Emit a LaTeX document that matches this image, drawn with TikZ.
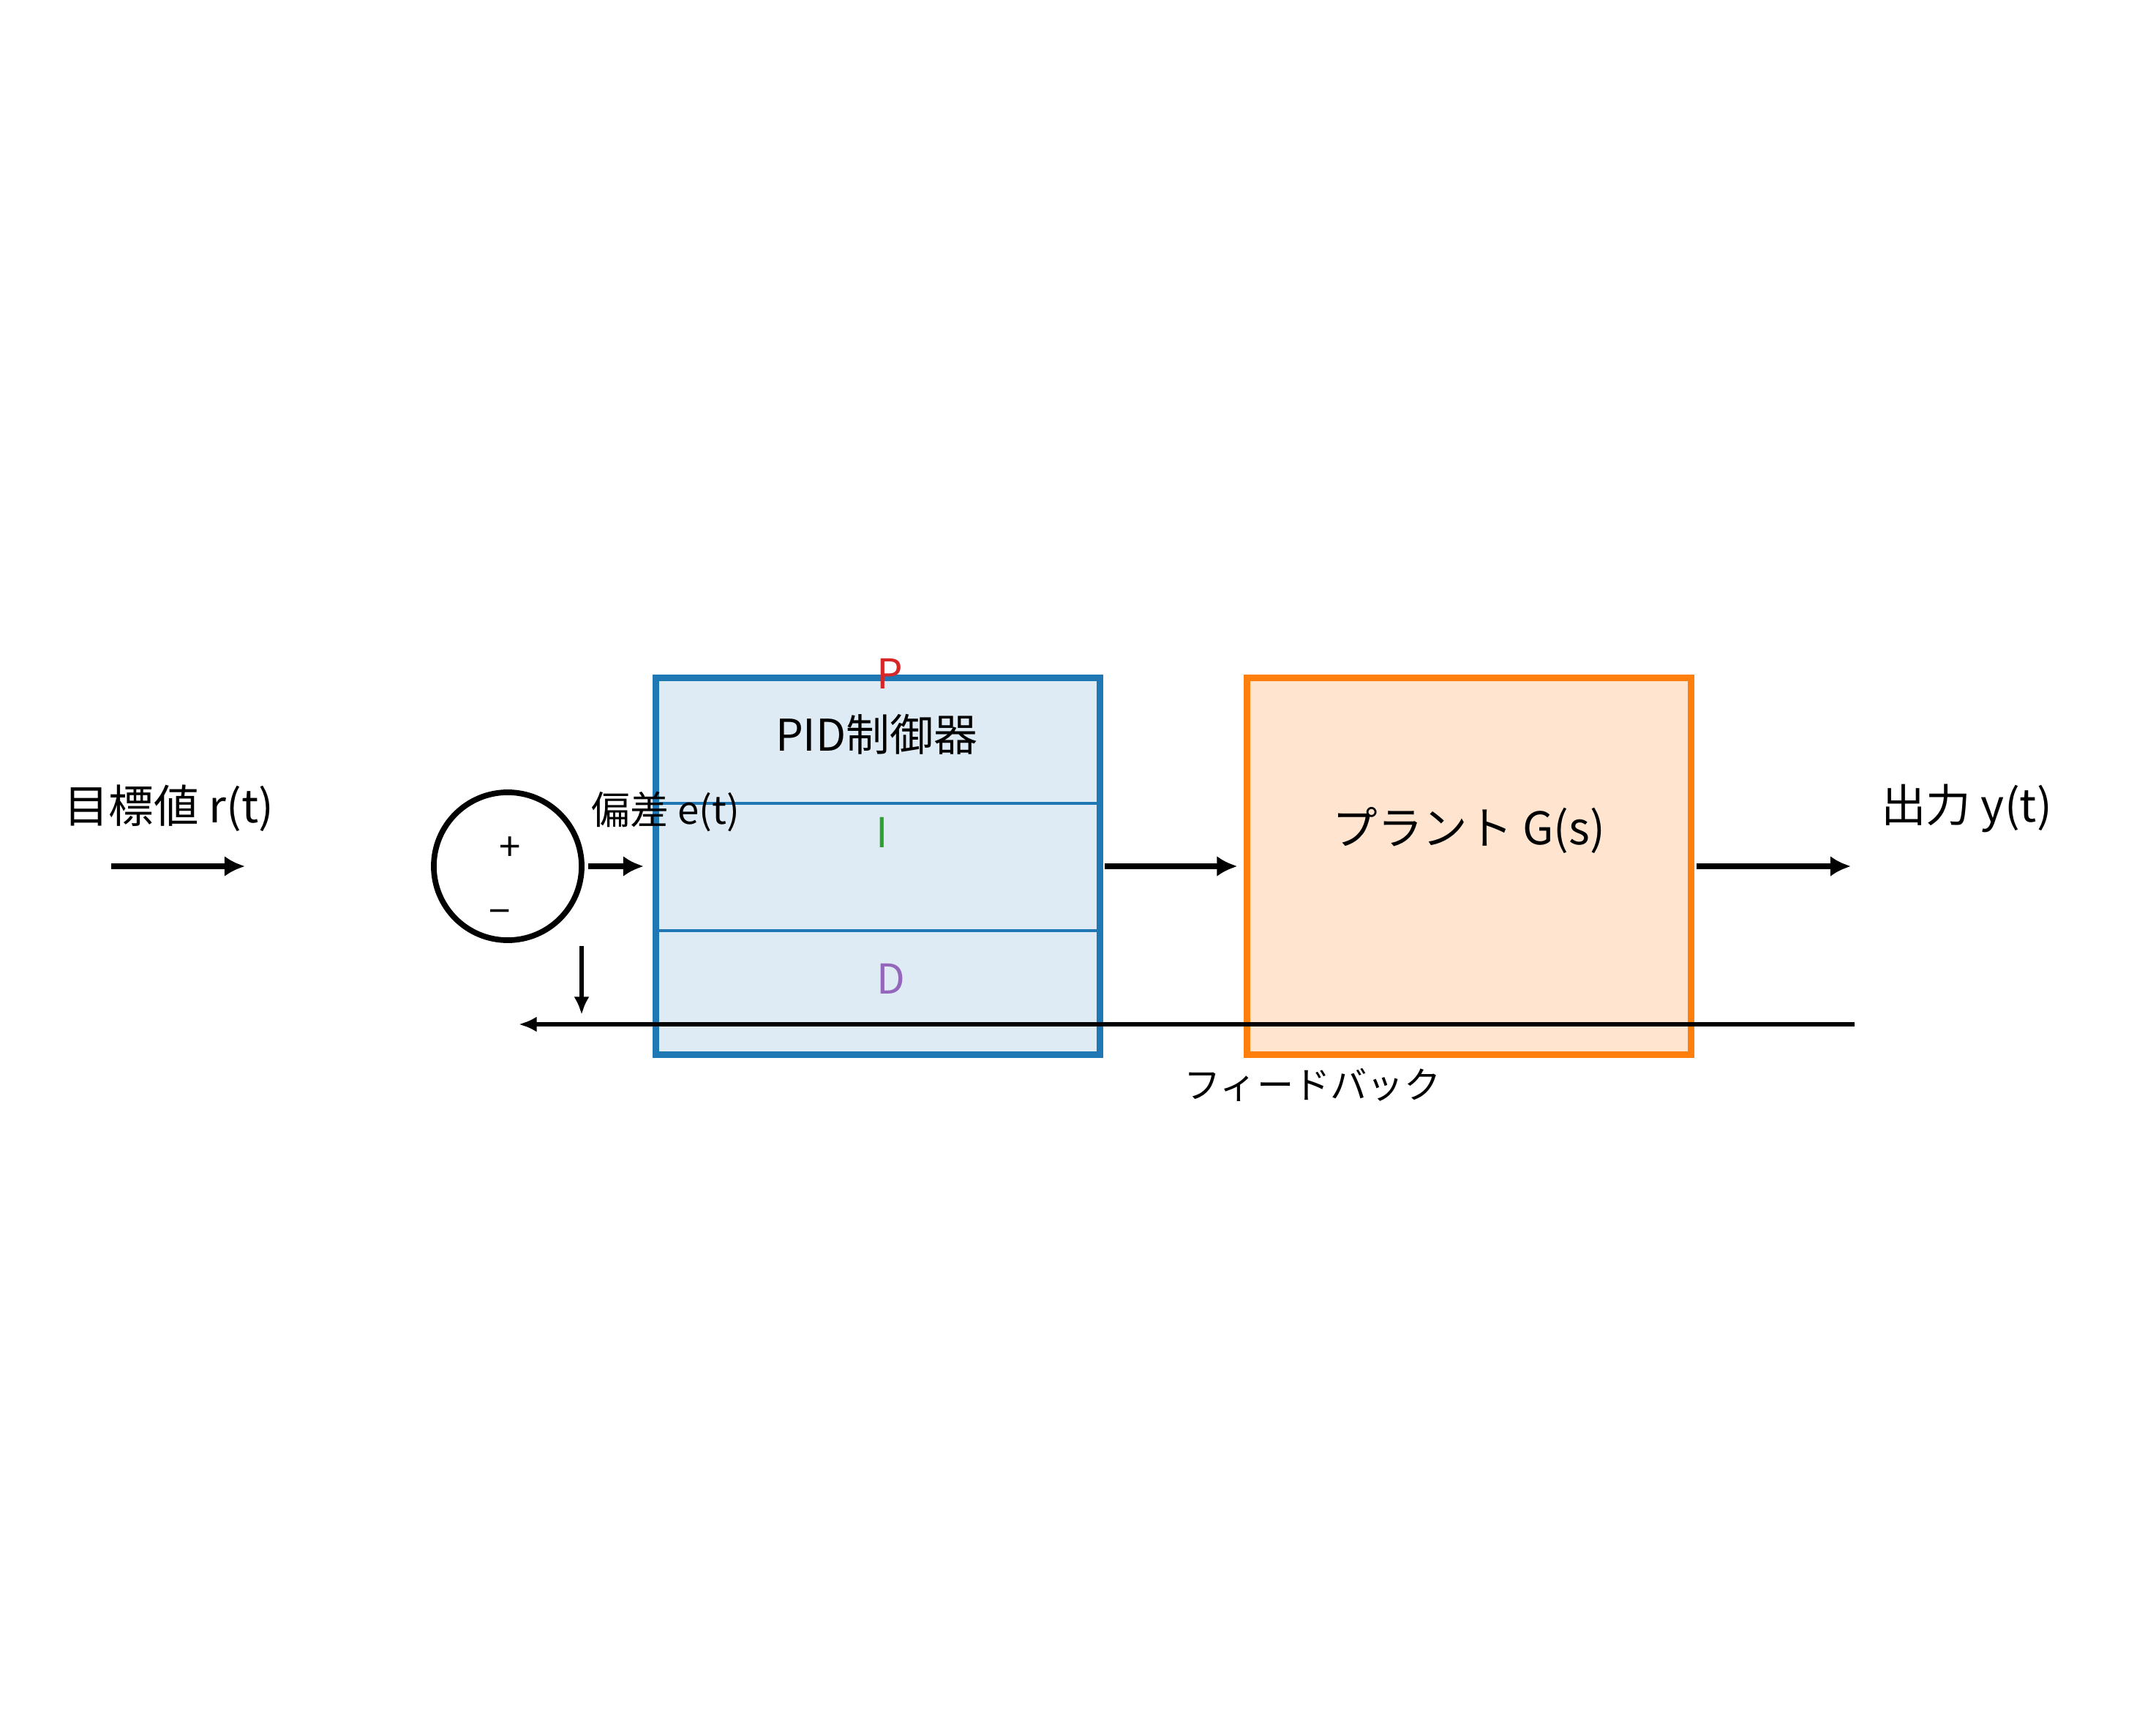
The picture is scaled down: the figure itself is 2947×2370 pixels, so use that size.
\documentclass[tikz,border=0pt]{standalone}
\usepackage{fontspec}
\setmainfont{Noto Sans CJK JP}
\usetikzlibrary{positioning, calc, arrows.meta}
\tikzset{
    Arrow/.style = {
        line width=2.4pt,
        -{Latex[length=8pt, width=8pt]}
    },
    Thin/.style = {
        line width=1.5pt,
        -{Latex[length=7pt, width=6pt]}
    },
    Block/.style = {
        draw,
        line width=2.6pt,
        minimum width=6.06cm,
        minimum height=5.14cm,
    }
}
\definecolor{pidLine}{HTML}{1f77b4}
\definecolor{pidFill}{HTML}{DFEBF4}
\definecolor{plantLine}{HTML}{FF7F0E}
\definecolor{plantFill}{HTML}{FFE5D0}
\definecolor{pColor}{HTML}{D62728}
\definecolor{iColor}{HTML}{2CA02C}
\definecolor{dColor}{HTML}{9467BD}

\begin{document}
\begin{tikzpicture}[x=0.01cm, y=-0.01cm]
    \useasboundingbox (0,0) rectangle (2947,2370);

    % blocks
    \node[Block, draw=pidLine, fill=pidFill] (pid) at (1200,1184) {};
    \node[Block, draw=plantLine, fill=plantFill] (plant) at (2008,1184) {};
    \draw[pidLine, line width=1.1pt] (pid.west |- 0,1098) -- (pid.east |- 0,1098);
    \draw[pidLine, line width=1.1pt] (pid.west |- 0,1272) -- (pid.east |- 0,1272);

    % summing point
    \node[circle, draw, line width=2.2pt, minimum size=2.02cm] (sum) at (694,1184) {};
    \node[font=\fontsize{15}{18}\selectfont] (plus) at (697,1160) {+};
    \node[font=\fontsize{15}{18}\selectfont] (minus) at (683,1254) {−};

    % labels
    \node[font=\fontsize{17.5}{21}\selectfont] (ref) at (231,1105) {目標値 r(t)};
    \node[font=\fontsize{17.5}{21}\selectfont] (out) at (2688,1105) {出力 y(t)};
    \node[font=\fontsize{15}{18}\selectfont] (err) at (910,1109) {偏差 e(t)};
    \node[font=\fontsize{17}{20}\selectfont] (pidText) at (1198,1004) {PID制御器};
    \node[font=\fontsize{16}{19}\selectfont, text=pColor] (pText) at (1216,921) {P};
    \node[font=\fontsize{16}{19}\selectfont, text=iColor] (iText) at (1206,1138) {I};
    \node[font=\fontsize{16}{19}\selectfont, text=dColor] (dText) at (1218,1338) {D};
    \node[font=\fontsize{17.5}{21}\selectfont] (plantText) at (2008,1135) {プラント G(s)};
    \node[font=\fontsize{14.3}{17}\selectfont] (fbText) at (1794,1483) {フィードバック};

    % free ends
    \coordinate (rIn) at (152,1184);
    \coordinate (rEnd) at (335,1184);
    \coordinate (yEnd) at (2530,1184);
    \coordinate (fbStart) at (2535,1400);
    \coordinate (fbEnd) at (709,1400);
    \coordinate (dnStart) at (795,1293);
    \coordinate (dnEnd) at (795,1387);

    % signal path
    \draw[Arrow] (rIn) -- (rEnd);
    \draw[Arrow, shorten <=1.5pt, shorten >=3.5pt] (sum.east) -- (pid.west);
    \draw[Arrow, shorten <=0.5pt, shorten >=2.5pt] (pid.east) -- (plant.west);
    \draw[Arrow, shorten <=1pt] (plant.east) -- (yEnd);

    % feedback
    \draw[Thin, line width=1.8pt] (fbStart) -- (fbEnd);
    \draw[Thin] (dnStart) -- (dnEnd);
\end{tikzpicture}
\end{document}
